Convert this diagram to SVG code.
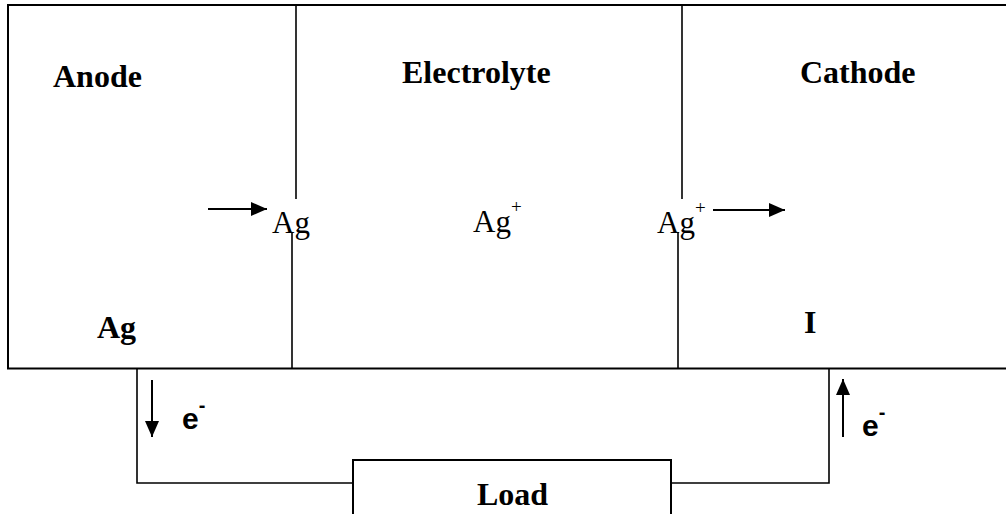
<svg xmlns="http://www.w3.org/2000/svg" width="1006" height="514" viewBox="0 0 1006 514">
<defs>
<marker id="ah" viewBox="0 0 16 14" refX="16" refY="7" markerWidth="16" markerHeight="14" markerUnits="userSpaceOnUse" orient="auto">
<path d="M0,0 L16,7 L0,14 Z" fill="#000"/>
</marker>
<style>
.ln{stroke:#000;stroke-width:2;fill:none}
.thin{stroke:#000;stroke-width:1.6;fill:none}
.arr{stroke:#000;stroke-width:2;fill:none;marker-end:url(#ah)}
.hb{font-family:"Liberation Serif","Times New Roman",serif;font-weight:bold;font-size:32px;fill:#000}
.hr{font-family:"Liberation Serif","Times New Roman",serif;font-size:31px;fill:#000}
.sup{font-size:19px}
.el{font-family:"Liberation Sans",Arial,sans-serif;font-weight:bold;font-size:30px;fill:#000}
.elsup{font-size:20px}
</style>
</defs>
<rect width="1006" height="514" fill="#fff"/>
<g id="cell">
<path class="ln" d="M1006,5 H8 V368.5 H1006"/>
</g>
<g id="anode">
<text class="hb" x="53" y="87">Anode</text>
<text class="hb" x="97" y="338">Ag</text>
</g>
<g id="electrolyte">
<text class="hb" x="402" y="83">Electrolyte</text>
<text class="hr" x="473" y="232">Ag<tspan class="sup" dy="-19">+</tspan></text>
</g>
<g id="cathode">
<text class="hb" x="800" y="83">Cathode</text>
<text class="hb" x="804" y="333">I</text>
</g>
<g id="interfaces">
<line class="thin" x1="296" y1="5" x2="296" y2="199"/>
<line class="thin" x1="292" y1="232" x2="292" y2="368"/>
<line class="thin" x1="682" y1="5" x2="682" y2="199"/>
<line class="thin" x1="678" y1="232" x2="678" y2="368"/>
<text class="hr" x="272" y="233">Ag</text>
<text class="hr" x="657" y="233">Ag<tspan class="sup" dy="-19">+</tspan></text>
</g>
<g id="load">
<rect class="ln" x="353" y="460" width="318" height="70"/>
<text class="hb" x="477" y="505">Load</text>
</g>
<g id="connectors">
<path class="thin" d="M137,369 V483 H353"/>
<path class="thin" d="M671,483 H829 V369"/>
<line class="arr" x1="208" y1="209" x2="267" y2="209"/>
<line class="arr" x1="713" y1="210" x2="785" y2="210"/>
<line class="arr" x1="152" y1="380" x2="152" y2="437"/>
<line class="arr" x1="843" y1="437" x2="843" y2="379"/>
</g>
<g id="electrons">
<text class="el" x="182" y="429">e<tspan class="elsup" dy="-17">-</tspan></text>
<text class="el" x="862" y="436">e<tspan class="elsup" dy="-17">-</tspan></text>
</g>
</svg>
